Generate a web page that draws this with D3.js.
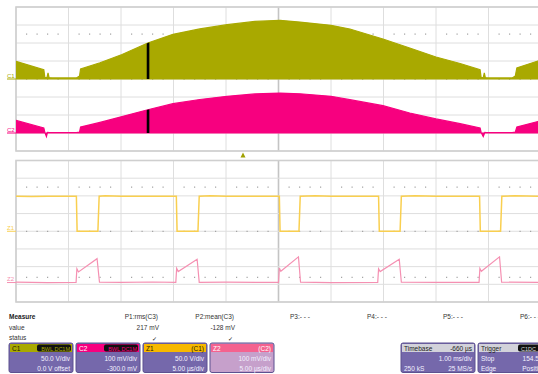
<!DOCTYPE html>
<html>
<head>
<meta charset="utf-8">
<script src="https://cdn.jsdelivr.net/npm/d3@7"></script>
<style>
  body { margin: 0; background: #fff; }
  svg { display: block; font-family: "Liberation Sans", Arial, sans-serif; }
</style>
</head>
<body>
<div id="scope"></div>
<script>
// C1 line voltage (V) and C2 current probe (mV), time in ms from left edge of screen
const c1Time  = [0, 0.53, 0.55, 0.59, 0.61, 0.63, 0.70, 1.15, 1.21, 1.23, 1.6, 2.02, 2.51, 2.99, 3.5, 4.02, 4.55, 5.03, 5.41, 6.0, 6.36, 6.99, 7.5, 8.0, 8.46, 8.84, 8.86, 8.90, 8.92, 8.94, 9.0, 9.45, 9.51, 9.54, 9.94, 10];
const c1Volts = [49, 26, 4, 4, 17, 4, 3, 3, 8, 28, 45, 68, 100, 124, 139, 151, 160, 163, 158, 149, 139, 111, 86, 61, 43, 26, 4, 4, 17, 4, 3, 3, 8, 31, 50, 52];

const c2Time = [0, 0.53, 0.55, 0.58, 0.60, 0.64, 1.15, 1.21, 1.23, 1.6, 2.02, 2.51, 2.99, 3.5, 4.02, 4.55, 5.03, 5.41, 6.0, 6.36, 6.99, 7.5, 8.0, 8.46, 8.84, 8.86, 8.90, 8.93, 8.96, 9.45, 9.51, 9.54, 9.94, 10];
const c2mV   = [70, 28, 3, -20, 3, 2, 2, 5, 33, 59, 91, 129, 163, 186, 204, 217, 222, 218, 204, 185, 152, 111, 78, 52, 28, 3, -20, 3, 2, 2, 5, 33, 64, 66];

// zoom window shown below (black mark on C1/C2)
const zoomStart = 2.49, zoomEnd = 2.54;

// Z1 = zoom of C1, Z2 = zoom of C2, time in µs
const z1Time  = [0, 1.5, 3, 5.75, 5.82, 7.80, 7.92, 8.5, 10, 15.27, 15.34, 17.33, 17.45, 18.5, 20, 25.08, 25.15, 26.95, 27.07, 28.5, 30, 34.53, 34.60, 36.58, 36.70, 38, 40, 44.15, 44.22, 46.15, 46.27, 47.5, 50];
const z1Volts = [99, 98, 99, 99, 0, 0, 99, 100, 99, 99, 0, 0, 99, 100, 99, 99, 0, 0, 99, 100, 99, 99, 0, 0, 99, 100, 99, 99, 0, 0, 99, 100, 99];

const z2Time = [0, 3, 5.72, 5.80, 5.95, 7.72, 7.95, 10, 13, 15.22, 15.30, 15.45, 17.25, 17.45, 20, 25.0, 25.08, 25.22, 26.90, 27.10, 30, 34.45, 34.53, 34.68, 36.50, 36.70, 40, 44.10, 44.18, 44.32, 46.05, 46.25, 50];
const z2mV   = [2, 0, 1, 78, 60, 135, 2, 1, 3, 1, 80, 62, 132, 1, 2, 1, 82, 64, 145, 2, 0, 1, 78, 62, 132, 2, 1, 1, 80, 64, 145, 2, 1];

// readouts
const paramNames  = ["P1:rms(C3)", "P2:mean(C3)", "P3:- - -", "P4:- - -", "P5:- - -", "P6:- - -"];
const paramValues = ["217 mV", "-128 mV", "", "", "", ""];
const paramStatus = ["\u2713", "\u2713", "", "", "", ""];

const chanNames  = ["C1", "C2", "Z1", "Z2"];
const chanTags   = ["BWL DC1M", "BWL DC1M", "(C1)", "(C2)"];
const chanScale  = ["50.0 V/div", "100 mV/div", "50.0 V/div", "100 mV/div"];
const chanSecond = ["0.0 V offset", "-300.0 mV", "5.00 \u00b5s/div", "5.00 \u00b5s/div"];

const timebaseRows = [["Timebase", "-660 \u00b5s"], ["", "1.00 ms/div"], ["250 kS", "25 MS/s"]];
const triggerRows  = [["Trigger", "C1DC"], ["Stop", "154.5 V"], ["Edge", "Positive"]];

let width = 538, height = 374;
let left = 16, right = 541;
let top1 = 7, bot1 = 151, top2 = 160.5, bot2 = 302;

let olive = "#a9a900", magenta = "#f7007f", gold = "#f9cf4f", pink = "#f590b2";

let svg = d3.select("#scope").append("svg")
  .attr("width", width)
  .attr("height", height);

let x1 = d3.scaleLinear().domain([0, 10]).range([left, right]);   // ms
let x2 = d3.scaleLinear().domain([0, 50]).range([left, right]);   // µs
let yC1 = d3.scaleLinear().domain([-200, 200]).range([bot1, top1]);
let yC2 = d3.scaleLinear().domain([-100, 700]).range([bot1, top1]);
let yZ1 = d3.scaleLinear().domain([-200, 200]).range([bot2, top2]);
let yZ2 = d3.scaleLinear().domain([-110, 690]).range([bot2, top2]);

// grids
function drawGrid(g, x, y, dotRows) {
  let xt = d3.range(0, 11).map(i => x.domain()[0] + i * (x.domain()[1] - x.domain()[0]) / 10);
  let yt = d3.range(0, 9).map(i => y.domain()[0] + i * (y.domain()[1] - y.domain()[0]) / 8);
  let yTop = y.range()[1], yBot = y.range()[0];
  g.selectAll(".vl").data(xt).enter().append("line")
    .attr("x1", d => x(d)).attr("x2", d => x(d))
    .attr("y1", yTop).attr("y2", yBot)
    .attr("stroke", (d, i) => i == 5 ? "#c4c4c4" : "#dedede")
    .attr("stroke-width", (d, i) => i == 5 ? 1.6 : 1);
  g.selectAll(".hl").data(yt).enter().append("line")
    .attr("x1", left).attr("x2", right)
    .attr("y1", d => y(d)).attr("y2", d => y(d))
    .attr("stroke", "#dedede").attr("stroke-width", 1);
  // minor dots
  let step = (x.domain()[1] - x.domain()[0]) / 50;
  let minor = d3.range(0, 50).filter(i => i % 5 != 0).map(i => x.domain()[0] + i * step);
  let divPx = (yBot - yTop) / 8;
  dotRows.forEach(r => {
    g.selectAll(null).data(minor).enter().append("rect")
      .attr("x", d => x(d) - 0.5).attr("y", yTop + r * divPx - 0.5)
      .attr("width", 1.2).attr("height", 1.2)
      .attr("fill", "#a0a0a0");
  });
  g.append("rect")
    .attr("x", left).attr("y", yTop)
    .attr("width", right - left).attr("height", yBot - yTop)
    .attr("fill", "none").attr("stroke", "#cfcfcf").attr("stroke-width", 1.6);
}

let g1 = svg.append("g");
drawGrid(g1, x1, yC1, [1.5, 4]);
let g2 = svg.append("g");
drawGrid(g2, x2, yZ1, [1.5, 4, 6.6]);

svg.append("clipPath").attr("id", "clip1").append("rect")
  .attr("x", left).attr("y", top1).attr("width", right - left).attr("height", bot1 - top1);
svg.append("clipPath").attr("id", "clip2").append("rect")
  .attr("x", left).attr("y", top2).attr("width", right - left).attr("height", bot2 - top2);

// C1 / C2 filled envelopes
let c1Data = c1Time.map((t, i) => [t, c1Volts[i]]);
let c2Data = c2Time.map((t, i) => [t, c2mV[i]]);

let areaC1 = d3.area().x(d => x1(d[0])).y0(yC1(0)).y1(d => yC1(d[1]));
let areaC2 = d3.area().x(d => x1(d[0])).y0(yC2(0)).y1(d => yC2(d[1]));

svg.append("clipPath").attr("id", "c1shape").append("path").attr("d", areaC1(c1Data));
svg.append("clipPath").attr("id", "c2shape").append("path").attr("d", areaC2(c2Data));

let tr1 = svg.append("g").attr("clip-path", "url(#clip1)");
tr1.append("path").attr("d", areaC1(c1Data))
  .attr("fill", olive).attr("stroke", olive).attr("stroke-width", 1.2);
tr1.append("path").attr("d", areaC2(c2Data))
  .attr("fill", magenta).attr("stroke", magenta).attr("stroke-width", 1.2);

// zoom window mark
tr1.append("rect").attr("clip-path", "url(#c1shape)")
  .attr("x", x1(zoomStart)).attr("width", x1(zoomEnd) - x1(zoomStart))
  .attr("y", top1).attr("height", yC1(0) - top1).attr("fill", "#000");
tr1.append("rect").attr("clip-path", "url(#c2shape)")
  .attr("x", x1(zoomStart)).attr("width", x1(zoomEnd) - x1(zoomStart))
  .attr("y", top1).attr("height", yC2(0) - top1).attr("fill", "#000");

// Z1 / Z2 lines
let tr2 = svg.append("g").attr("clip-path", "url(#clip2)");
tr2.append("path")
  .attr("d", d3.line().x((d, i) => x2(z1Time[i])).y(d => yZ1(d))(z1Volts))
  .attr("fill", "none").attr("stroke", gold).attr("stroke-width", 1.5);
tr2.append("path")
  .attr("d", d3.line().x((d, i) => x2(z2Time[i])).y(d => yZ2(d))(z2mV))
  .attr("fill", "none").attr("stroke", pink).attr("stroke-width", 1.2);

// ground markers on the left
let markers = [["C1", olive, yC1(0)], ["C2", magenta, yC2(0)], ["Z1", gold, yZ1(0)], ["Z2", pink, yZ2(0)]];
markers.forEach(m => {
  svg.append("text").attr("x", 7).attr("y", m[2] - 1.5)
    .attr("font-size", 6).attr("fill", m[1]).text(m[0]);
  svg.append("line").attr("x1", 7).attr("x2", left).attr("y1", m[2]).attr("y2", m[2])
    .attr("stroke", m[1]).attr("stroke-width", 1);
});

// trigger position arrow
let trigX = 243;
svg.append("path")
  .attr("d", `M${trigX - 2.5},157.5 L${trigX + 2.5},157.5 L${trigX},152.5 Z`)
  .attr("fill", "#a0a000");

// measurement table
let info = svg.append("g").attr("font-size", 6.5).attr("fill", "#333");
info.append("text").attr("x", 9).attr("y", 318.5).attr("font-weight", "bold").attr("fill", "#222").text("Measure");
info.append("text").attr("x", 9).attr("y", 329.5).text("value");
info.append("text").attr("x", 9).attr("y", 340).text("status");

let paramRight = [158, 234];
let paramLeft = [122, 193, 290, 367, 443, 520];
paramNames.forEach((p, i) => {
  if (i < 2) {
    info.append("text").attr("x", paramRight[i]).attr("y", 318.5).attr("text-anchor", "end").text(p);
    info.append("text").attr("x", paramRight[i] + 1).attr("y", 329.5).attr("text-anchor", "end").text(paramValues[i]);
    info.append("text").attr("x", paramRight[i] - 1).attr("y", 340.5).attr("text-anchor", "end")
      .attr("font-size", 6).attr("fill", "#111").text(paramStatus[i]);
  } else {
    info.append("text").attr("x", paramLeft[i]).attr("y", 318.5).text(p);
  }
});

// channel descriptor boxes
let boxX = [9, 76, 143, 210];
let headFill = [olive, magenta, "#f7b800", "#f4628f"];
let headText = ["#1c1c00", "#fff", "#2a2000", "#fff"];
let bodyFill = ["#7568ab", "#7568ab", "#7568ab", "#c6a0cb"];
let boxW = 64, boxTop = 343, boxH = 29.5;

chanNames.forEach((c, i) => {
  let b = svg.append("g").attr("transform", `translate(${boxX[i]},${boxTop})`).attr("font-size", 6.5);
  b.append("rect").attr("width", boxW).attr("height", boxH).attr("rx", 2)
    .attr("fill", bodyFill[i]).attr("stroke", "#5d5190").attr("stroke-width", 1);
  b.append("rect").attr("x", 1).attr("y", 1).attr("width", boxW - 2).attr("height", 8)
    .attr("fill", headFill[i]);
  b.append("text").attr("x", 3).attr("y", 7.5).attr("fill", headText[i]).text(c);
  if (i < 2) {
    b.append("rect").attr("x", boxW - 36).attr("y", 1.5).attr("width", 34).attr("height", 7).attr("rx", 2)
      .attr("fill", "#111");
    b.append("text").attr("x", boxW - 3).attr("y", 7.5).attr("text-anchor", "end")
      .attr("font-size", 5.5).attr("fill", headFill[i]).text(chanTags[i]);
  } else {
    b.append("text").attr("x", boxW - 3).attr("y", 7.5).attr("text-anchor", "end")
      .attr("fill", headText[i]).text(chanTags[i]);
  }
  b.append("text").attr("x", boxW - 3).attr("y", 18).attr("text-anchor", "end").attr("fill", "#f2f0ff").text(chanScale[i]);
  b.append("text").attr("x", boxW - 3).attr("y", 27.5).attr("text-anchor", "end").attr("fill", "#f2f0ff").text(chanSecond[i]);
});

// timebase and trigger boxes
function infoBox(x, w, rows, tag) {
  let b = svg.append("g").attr("transform", `translate(${x},${boxTop})`).attr("font-size", 6.5);
  b.append("rect").attr("width", w).attr("height", boxH).attr("rx", 2)
    .attr("fill", "#7568ab").attr("stroke", "#5d5190").attr("stroke-width", 1);
  b.append("rect").attr("x", 1).attr("y", 1).attr("width", w - 2).attr("height", 8).attr("fill", "#d2d2da");
  rows.forEach((r, j) => {
    let yy = [7.5, 18, 27.5][j];
    let col = j == 0 ? "#222" : "#f2f0ff";
    b.append("text").attr("x", 3).attr("y", yy).attr("fill", col).text(r[0]);
    if (j == 0 && tag) {
      b.append("rect").attr("x", w - 30).attr("y", 1.5).attr("width", 28).attr("height", 7).attr("rx", 2).attr("fill", "#111");
      b.append("text").attr("x", w - 27).attr("y", 7.5).attr("font-size", 5.5).attr("fill", "#d8d8d8").text(r[1]);
    } else {
      b.append("text").attr("x", w - 3).attr("y", yy).attr("text-anchor", "end").attr("fill", col).text(r[1]);
    }
  });
}
infoBox(401, 74, timebaseRows, false);
infoBox(478, 70, triggerRows, true);
</script>
</body>
</html>
